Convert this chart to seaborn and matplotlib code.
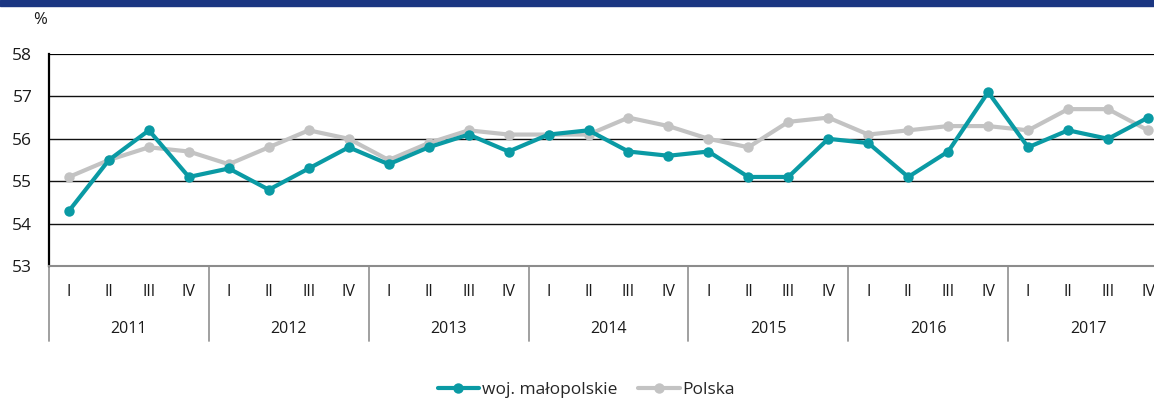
import matplotlib
matplotlib.use("Agg")
import matplotlib.pyplot as plt
import matplotlib.transforms as mtransforms
from matplotlib.lines import Line2D
import seaborn as sns
import pandas as pd
import numpy as np

years = ["2011", "2012", "2013", "2014", "2015", "2016", "2017"]
quarters = ["I", "II", "III", "IV"]
malopolskie = [54.3, 55.5, 56.2, 55.1,
               55.3, 54.8, 55.3, 55.8,
               55.4, 55.8, 56.1, 55.7,
               56.1, 56.2, 55.7, 55.6,
               55.7, 55.1, 55.1, 56.0,
               55.9, 55.1, 55.7, 57.1,
               55.8, 56.2, 56.0, 56.5]
polska = [55.1, 55.5, 55.8, 55.7,
          55.4, 55.8, 56.2, 56.0,
          55.5, 55.9, 56.2, 56.1,
          56.1, 56.1, 56.5, 56.3,
          56.0, 55.8, 56.4, 56.5,
          56.1, 56.2, 56.3, 56.3,
          56.2, 56.7, 56.7, 56.2]
series_names = ["woj. małopolskie", "Polska"]
yticks = [53, 54, 55, 56, 57, 58]

sns.set_theme(style="white")
plt.rcParams['font.family'] = ['Open Sans', 'DejaVu Sans']

n = len(malopolskie)
idx = np.arange(n)
df = pd.DataFrame({
    "idx": np.concatenate([idx, idx]),
    "value": malopolskie + polska,
    "series": [series_names[0]] * n + [series_names[1]] * n,
})

fig = plt.figure(figsize=(11.54, 4.0), dpi=100)
fig.patches.append(plt.Rectangle((0, 1 - 6 / 400), 1, 6 / 400, transform=fig.transFigure,
                                 color="#1b3682", zorder=0))
ax = fig.add_axes([49 / 1154, 1 - 266 / 400, (1168 - 49) / 1154, 212 / 400])

palette = {series_names[0]: "#0a9aa4", series_names[1]: "#c3c3c3"}
sns.lineplot(data=df, x="idx", y="value", hue="series", hue_order=[series_names[1], series_names[0]],
             palette=palette, marker="o", markersize=7.5, markeredgewidth=0,
             linewidth=3.0, ax=ax, legend=False)

ax.set_xlim(-0.5, n - 0.5)
ax.set_ylim(53, 58)
ax.set_yticks(yticks)
ax.set_yticklabels([str(v) for v in yticks], fontsize=12.5, color="#1a1a1a")
ax.tick_params(axis="y", length=0, pad=12)
ax.set_xticks([])
ax.set_xlabel("")
ax.set_ylabel("")
for y in yticks[1:-1]:
    ax.axhline(y, color="#111111", linewidth=1.0, zorder=1)
ax.axhline(58, color="#000000", linewidth=1.6, zorder=1)
for s in ["right", "top"]:
    ax.spines[s].set_visible(False)
ax.spines["left"].set_color("#000000")
ax.spines["left"].set_linewidth(1.6)
ax.spines["bottom"].set_color("#8c8c8c")
ax.spines["bottom"].set_linewidth(1.5)

trans = mtransforms.blended_transform_factory(ax.transData, ax.transAxes)
for i in range(n):
    ax.text(i, -0.123, quarters[i % 4], transform=trans, ha="center", va="center",
            fontsize=11.5, color="#1a1a1a")
for k, yr in enumerate(years):
    ax.text(4 * k + 1.5, -0.297, yr, transform=trans, ha="center", va="center",
            fontsize=11.5, color="#1a1a1a")
for k in range(len(years) + 1):
    ax.plot([4 * k - 0.5, 4 * k - 0.5], [0, -0.354], transform=trans, color="#999999",
            linewidth=1.3, clip_on=False)

fig.text(40 / 1154, 1 - 20 / 400, "%", ha="center", va="center", fontsize=12, color="#1a1a1a")

handles = [Line2D([], [], color=palette[s], marker="o", markersize=7.5, markeredgewidth=0, linewidth=3.0)
           for s in series_names]
fig.legend(handles, series_names, loc="center", bbox_to_anchor=(0.508, 1 - 390 / 400), ncol=2,
           frameon=False, fontsize=12.5, handlelength=2.4, handletextpad=0.15, columnspacing=1.2)

fig.savefig("out.png", dpi=100)
